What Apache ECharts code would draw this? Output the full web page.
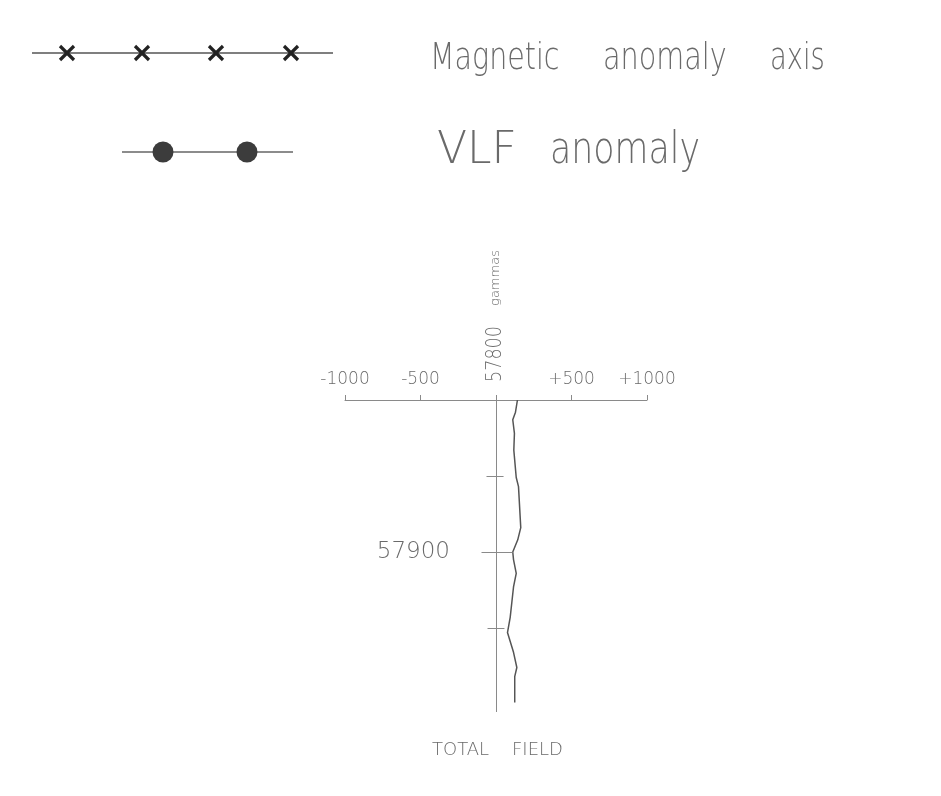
<!DOCTYPE html>
<html>
<head>
<meta charset="utf-8">
<script src="https://cdn.jsdelivr.net/npm/echarts@6/dist/echarts.min.js"></script>
<style>html,body{margin:0;padding:0;background:#fff;}#c{width:941px;height:796px;}</style>
</head>
<body>
<div id="c"></div>
<script>
// Profile stations (vertical axis) and total-field offsets from 57800 gammas
const stations = [57800, 57808, 57813, 57822, 57833, 57851, 57857, 57884, 57892, 57900,
                  57905, 57914, 57923, 57943, 57953, 57966, 57976, 57982, 57999];
const fieldOffsets = [142, 129, 111, 122, 118, 134, 149, 164, 144, 111,
                      116, 134, 116, 94, 76, 116, 138, 124, 124];
const xTickValues = [-1000, -500, 0, 500, 1000];
const stationTicks = [57850, 57900, 57950];
const stationTickLeft = [-63, -96, -56];
const stationTickRight = [50, 110, 56];
const labelledStation = 57900;
const baseField = '57800';

const FONT = 'DejaVu Sans';
const TXT = '#6a6a6a';
const AX = '#8a8a8a';

const chart = echarts.init(document.getElementById('c'), null, {renderer: 'canvas'});

const tickSegments = stationTicks.map((s, i) => [
  {coord: [stationTickLeft[i], s]},
  {coord: [stationTickRight[i], s]}
]);

function xMarker(x, y) {
  return {
    type: 'group', x: x, y: y,
    children: [
      {type: 'line', shape: {x1: -7, y1: -7, x2: 7, y2: 7}, style: {stroke: '#222', lineWidth: 3.2}},
      {type: 'line', shape: {x1: 7, y1: -7, x2: -7, y2: 7}, style: {stroke: '#222', lineWidth: 3.2}}
    ]
  };
}
function dot(x, y) {
  return {type: 'circle', shape: {cx: x, cy: y, r: 10.5}, style: {fill: '#3c3c3c'}};
}
function word(text, x, y, size, sx) {
  return {
    type: 'text', x: x, y: y, scaleX: sx,
    style: {text: text, fill: TXT, font: '200 ' + size + 'px "' + FONT + '"',
            verticalAlign: 'bottom'}
  };
}

const option = {
  animation: false,
  backgroundColor: '#fff',
  grid: {left: 345, right: 294, top: 400, height: 311.6, containLabel: false},
  xAxis: {
    type: 'value', position: 'top', min: -1000, max: 1000, interval: 500,
    axisLine: {show: true, onZero: false, lineStyle: {color: AX, width: 1}},
    axisTick: {show: true, length: 5, lineStyle: {color: AX}},
    splitLine: {show: false},
    axisLabel: {
      show: true, margin: 12, color: TXT, fontFamily: FONT, fontWeight: 200, fontSize: 17,
      formatter: v => xTickValues.indexOf(v) < 0 || v === 0 ? '' : (v > 0 ? '+' + v : '' + v)
    }
  },
  yAxis: {
    type: 'value', inverse: true, min: 57800, max: 58005, interval: 50,
    axisLine: {show: true, onZero: true, lineStyle: {color: AX, width: 1}},
    axisTick: {show: false},
    splitLine: {show: false},
    axisLabel: {
      show: true, margin: -105, color: TXT, fontFamily: FONT, fontWeight: 200, fontSize: 23,
      formatter: v => v === labelledStation ? String(v) : ''
    }
  },
  series: [{
    type: 'line',
    data: stations.map((s, i) => [fieldOffsets[i], s]),
    symbol: 'none', smooth: false,
    lineStyle: {color: '#555', width: 1.5},
    markLine: {
      silent: true, symbol: ['none', 'none'], animation: false,
      label: {show: false},
      lineStyle: {color: AX, width: 1, type: 'solid'},
      data: tickSegments
    }
  }],
  graphic: [
    {type: 'line', shape: {x1: 32, y1: 53, x2: 333, y2: 53}, style: {stroke: '#555', lineWidth: 1.6}},
    xMarker(67, 53), xMarker(142, 53), xMarker(216, 53), xMarker(291, 53),
    word('Magnetic', 430, 78, 38, 0.75),
    word('anomaly', 603, 78, 38, 0.755),
    word('axis', 770, 78, 38, 0.72),
    {type: 'line', shape: {x1: 122, y1: 152, x2: 293, y2: 152}, style: {stroke: '#666', lineWidth: 1.6}},
    dot(163, 152), dot(247, 152),
    word('VLF', 437, 174, 44, 1.0),
    word('anomaly', 550, 174, 44, 0.79),
    {
      type: 'text', x: 495, y: 354, rotation: Math.PI / 2, scaleX: 0.8,
      style: {text: baseField, fill: TXT, font: '200 22px "' + FONT + '"', align: 'center', verticalAlign: 'middle'}
    },
    {
      type: 'text', x: 496, y: 278, rotation: Math.PI / 2,
      style: {text: 'gammas', fill: TXT, font: '200 13px "' + FONT + '"', align: 'center', verticalAlign: 'middle'}
    },
    word('TOTAL', 432, 759, 18, 1.0),
    word('FIELD', 512, 759, 18, 1.0)
  ]
};
chart.setOption(option);
</script>
</body>
</html>
